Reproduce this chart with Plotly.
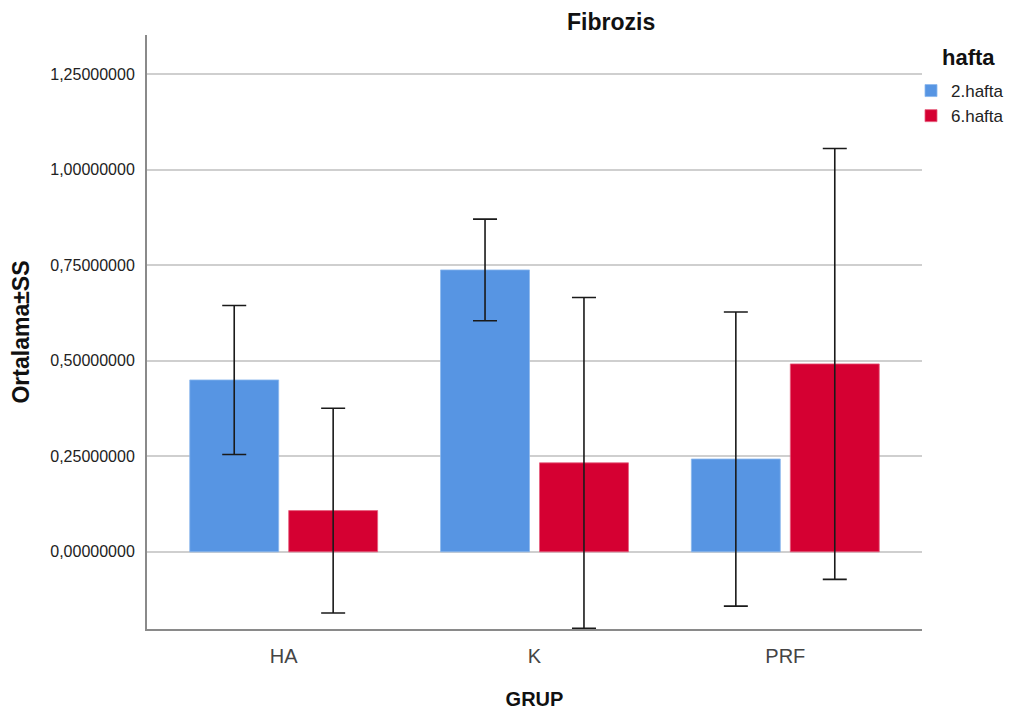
import plotly.graph_objects as go

groups = ["HA", "K", "PRF"]
series_names = ["2.hafta", "6.hafta"]
mean_2 = [0.450, 0.738, 0.243]
sd_2 = [0.195, 0.133, 0.385]
mean_6 = [0.108, 0.233, 0.492]
sd_6 = [0.268, 0.433, 0.564]
colors = ["#5795E3", "#D50032"]
ytick_vals = [0.0, 0.25, 0.5, 0.75, 1.0, 1.25]
ytick_text = ["0,00000000", "0,25000000", "0,50000000", "0,75000000", "1,00000000", "1,25000000"]

# page body has an 8px margin; work in window pixels and subtract it
OFF = 8
W, H = 1015 - OFF, 716 - OFF
PL, PR, PT, PB = 147, 922, 35, 629  # plot area in window pixels
L, R, T, B = PL - OFF, W - (PR - OFF), PT - OFF, H - (PB - OFF)
PW, PH = PR - PL, PB - PT

fig = go.Figure()
for name, m, s, c, lc in [(series_names[0], mean_2, sd_2, colors[0], "#8CB8EE"),
                          (series_names[1], mean_6, sd_6, colors[1], "#E6607F")]:
    fig.add_trace(go.Bar(
        x=groups, y=m, name=name,
        marker=dict(color=c, line=dict(color=lc, width=0.8)),
        error_y=dict(type="data", array=s, visible=True, color="#1a1a1a", thickness=1.6, width=12),
    ))

font = "Liberation Sans, Arial, sans-serif"
fig.add_annotation(
    text="<b>hafta</b>", xref="paper", yref="paper",
    x=(969 - PL) / PW, y=1 - (58 - PT) / PH, xanchor="center", yanchor="middle",
    showarrow=False, font=dict(size=22, color="#111", family=font),
)
fig.add_annotation(
    text="<b>Fibrozis</b>", xref="paper", yref="paper",
    x=(611 - PL) / PW, y=1 + (PT - 22) / PH, xanchor="center", yanchor="middle",
    showarrow=False, font=dict(size=23, color="#111", family=font),
)
fig.update_layout(
    width=W, height=H,
    margin=dict(l=L, r=R, t=T, b=B, autoexpand=False),
    paper_bgcolor="white", plot_bgcolor="white",
    barmode="group", bargap=0.211, bargroupgap=0.101,
    font=dict(family=font, color="#222"),
    xaxis=dict(
        range=[-0.545, 2.545], showgrid=False, showline=True, linecolor="#8a8a8a", linewidth=2,
        ticks="", ticklabelstandoff=8, tickfont=dict(size=20, color="#444", family=font),
        title=dict(text="<b>GRUP</b>", font=dict(size=20, color="#111", family=font), standoff=26),
    ),
    yaxis=dict(
        range=[-0.202, 1.353], showgrid=True, gridcolor="#cfcfcf", gridwidth=1.5,
        zeroline=False, showline=True, linecolor="#8a8a8a", linewidth=2,
        tickvals=ytick_vals, ticktext=ytick_text, ticks="", ticklabelstandoff=7,
        tickfont=dict(size=16, color="#222", family=font),
        title=dict(text="<b>Ortalama±SS</b>", font=dict(size=23, color="#111", family=font), standoff=16),
    ),
    legend=dict(
        x=(911 - PL) / PW, y=1 - (73 - PT) / PH, xanchor="left", yanchor="top",
        font=dict(size=17, color="#222", family=font), bgcolor="rgba(0,0,0,0)",
        tracegroupgap=0, itemwidth=30,
    ),
)
fig.write_html("out.html")
